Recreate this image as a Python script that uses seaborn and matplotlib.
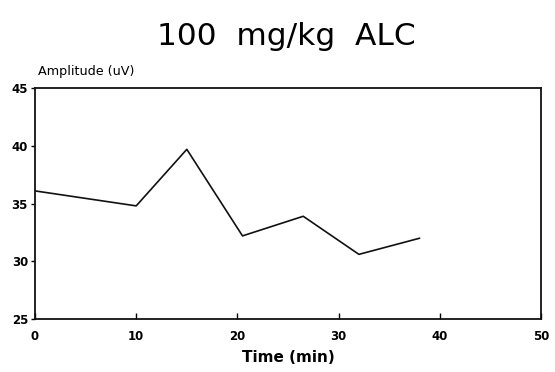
import matplotlib
matplotlib.use("Agg")
import matplotlib.pyplot as plt
import seaborn as sns
import pandas as pd

time_min = [0, 10, 15, 20.5, 26.5, 32, 38]
amplitude_uv = [36.1, 34.8, 39.7, 32.2, 33.9, 30.6, 32.0]
x_ticks = [0, 10, 20, 30, 40, 50]
y_ticks = [25, 30, 35, 40, 45]

sns.set_theme(style="white")
plt.rcParams['font.family'] = ['DejaVu Sans']
plt.rcParams['text.color'] = 'black'
plt.rcParams['axes.labelcolor'] = 'black'
plt.rcParams['xtick.color'] = 'black'
plt.rcParams['ytick.color'] = 'black'

df = pd.DataFrame({"Time": time_min, "Amplitude": amplitude_uv})

fig = plt.figure(figsize=(5.55, 3.72), dpi=100)
ax = fig.add_axes([0.063, 0.1425, 0.912, 0.6205])
sns.lineplot(data=df, x="Time", y="Amplitude", ax=ax, color="#111111", linewidth=1.2)

ax.set_xlim(0, 50)
ax.set_ylim(25, 45)
ax.set_xticks(x_ticks)
ax.set_yticks(y_ticks)
ax.set_xticklabels([str(v) for v in x_ticks], fontsize=8.5, fontweight="bold")
ax.set_yticklabels([str(v) for v in y_ticks], fontsize=8.5, fontweight="bold")
ax.tick_params(axis="x", direction="in", length=4, width=1, pad=8, color="black", bottom=True)
ax.tick_params(axis="y", direction="out", length=3, width=1, pad=2, color="black", left=True)
for s in ax.spines.values():
    s.set_color("#111111")
    s.set_linewidth(1.3)

ax.set_xlabel("Time (min)", fontsize=11, fontweight="bold", labelpad=5)
ax.set_ylabel("")
fig.text(0.068, 0.79, "Amplitude (uV)", fontsize=9.2, ha="left", va="bottom")
fig.text(0.516, 0.88, "100  mg/kg  ALC", fontsize=22.5, ha="center", va="baseline")

fig.savefig("out.png", dpi=100)
